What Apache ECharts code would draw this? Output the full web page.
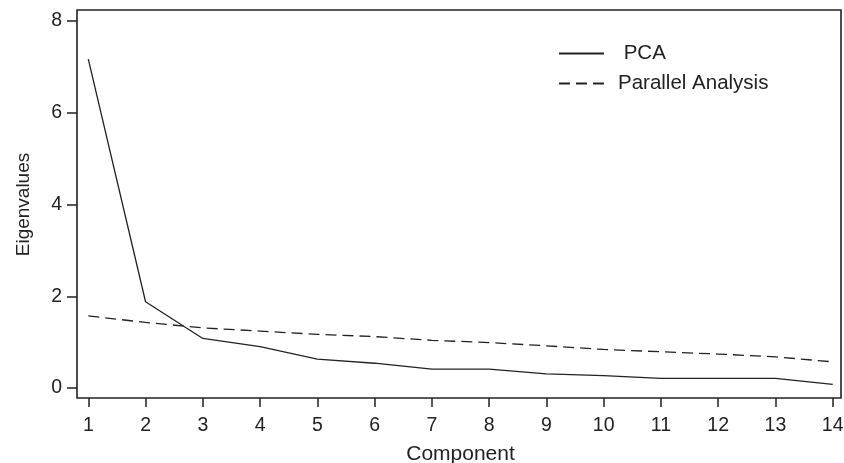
<!DOCTYPE html>
<html>
<head>
<meta charset="utf-8">
<script src="https://cdn.jsdelivr.net/npm/echarts@6/dist/echarts.min.js"></script>
<style>html,body{margin:0;padding:0;background:#fff;}#c{width:844px;height:463px;}</style>
</head>
<body>
<div id="c"></div>
<script>
const components = [1,2,3,4,5,6,7,8,9,10,11,12,13,14];
const pcaValues = [7.17,1.88,1.08,0.90,0.63,0.54,0.41,0.41,0.31,0.27,0.21,0.21,0.21,0.08];
const parallelValues = [1.57,1.43,1.31,1.24,1.17,1.12,1.04,0.99,0.92,0.84,0.79,0.74,0.68,0.57];
const yTicks = [0,2,4,6,8];

const FONT = 'Liberation Sans, Arial, sans-serif';
const INK = '#222';
const chart = echarts.init(document.getElementById('c'));
chart.setOption({
  animation: false,
  backgroundColor: '#fff',
  textStyle: { fontFamily: FONT },
  grid: [
    { left: 77, top: 10, right: 3, bottom: 65, show: true, borderColor: INK, borderWidth: 1.6, backgroundColor: 'transparent', outerBoundsMode: 'none', containLabel: false },
    { left: 88.3, top: 21, right: 11.3, bottom: 75, outerBoundsMode: 'none', containLabel: false }
  ],
  legend: {
    orient: 'vertical', left: 558, top: 43, padding: 0,
    itemWidth: 45, itemHeight: 14, itemGap: 9,
    itemStyle: { opacity: 0 },
    formatter: function (n) { return n === 'PCA' ? ' PCA' : n; },
    textStyle: { fontFamily: FONT, fontSize: 20.5, color: INK, lineHeight: 20, padding: [0,0,0,9] },
    data: [{ name: 'PCA' }, { name: 'Parallel Analysis' }]
  },
  xAxis: [
    { gridIndex: 0, type: 'value', show: false, min: 0, max: 1 },
    {
      gridIndex: 1, type: 'value', min: components[0], max: components[components.length-1], interval: 1,
      offset: 10, position: 'bottom',
      name: 'Component', nameLocation: 'middle', nameGap: 46,
      nameTextStyle: { fontFamily: FONT, fontSize: 21, color: INK },
      axisLine: { show: false, onZero: false },
      axisTick: { show: true, inside: false, length: 9, lineStyle: { color: INK, width: 1.5 } },
      axisLabel: { fontFamily: FONT, fontSize: 19.5, color: INK, margin: 18 },
      splitLine: { show: false }
    }
  ],
  yAxis: [
    { gridIndex: 0, type: 'value', show: false, min: 0, max: 1 },
    {
      gridIndex: 1, type: 'value', min: yTicks[0], max: yTicks[yTicks.length-1], interval: 2,
      offset: 11.3, position: 'left',
      name: 'Eigenvalues', nameLocation: 'middle', nameGap: 44,
      nameTextStyle: { fontFamily: FONT, fontSize: 19, color: INK },
      axisLine: { show: false, onZero: false },
      axisTick: { show: true, inside: false, length: 10, lineStyle: { color: INK, width: 1.5 } },
      axisLabel: { fontFamily: FONT, fontSize: 19.5, color: INK, margin: 15 },
      splitLine: { show: false }
    }
  ],
  series: [
    {
      name: 'PCA', type: 'line', xAxisIndex: 1, yAxisIndex: 1,
      data: components.map((c,i)=>[c, pcaValues[i]]),
      symbol: 'none', lineStyle: { color: INK, width: 1.3 }, itemStyle: { color: INK }
    },
    {
      name: 'Parallel Analysis', type: 'line', xAxisIndex: 1, yAxisIndex: 1,
      data: components.map((c,i)=>[c, parallelValues[i]]),
      symbol: 'none', lineStyle: { color: INK, width: 1.3, type: [11,6] }, itemStyle: { color: INK }
    }
  ]
});
</script>
</body>
</html>
